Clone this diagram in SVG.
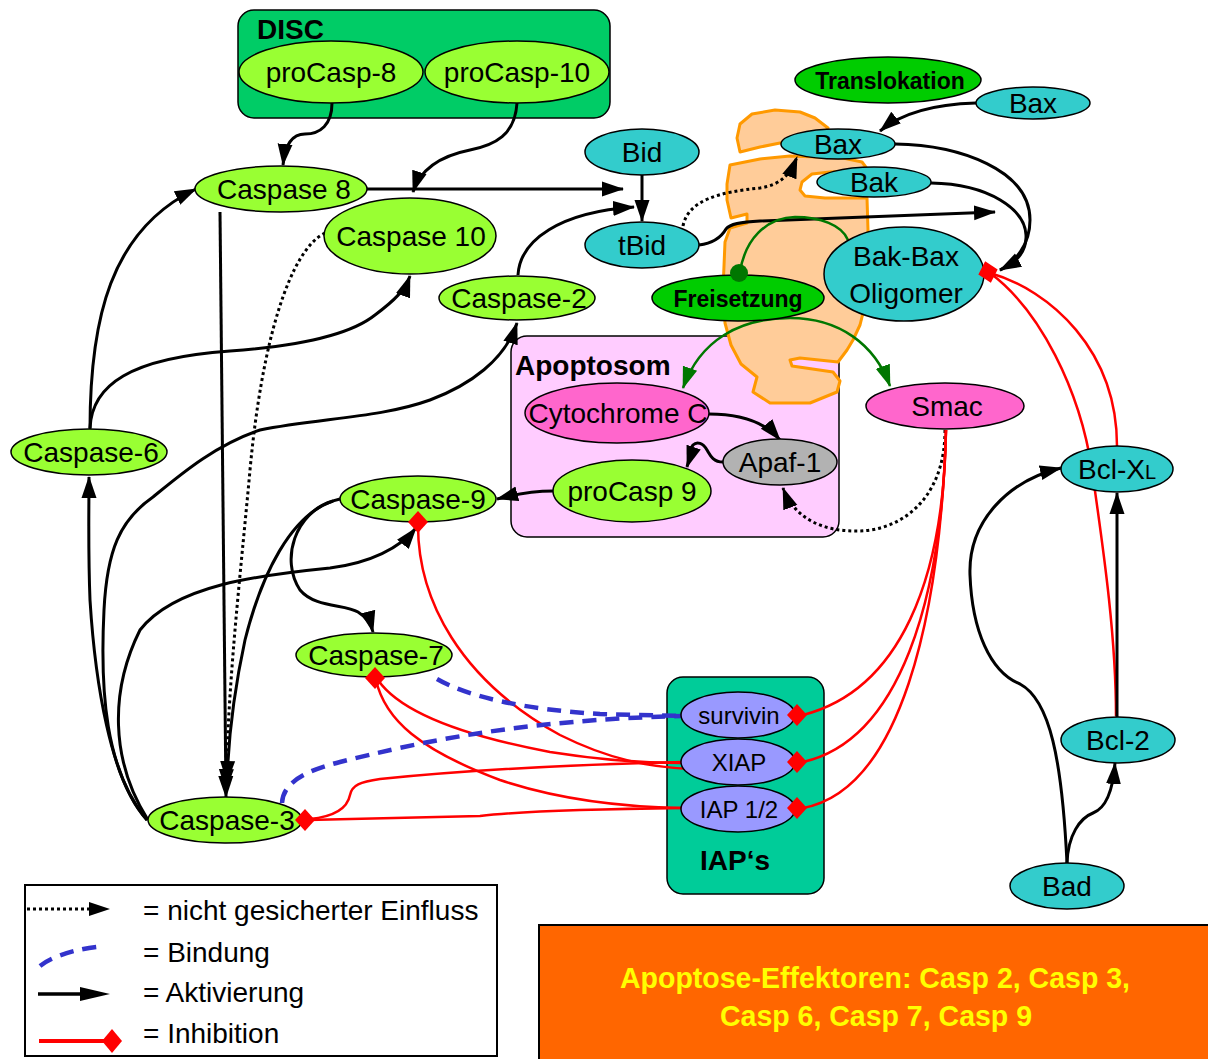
<svg xmlns="http://www.w3.org/2000/svg" xmlns:xlink="http://www.w3.org/1999/xlink" width="1208" height="1059" viewBox="0 0 1208 1059">
<defs>
<style>
text{font-family:"Liberation Sans",Arial,sans-serif;fill:#000;}
.t{font-size:28px;text-anchor:middle;}
.ts{font-size:24px;text-anchor:middle;}
.tb{font-size:23px;font-weight:bold;text-anchor:middle;}
.lbl{font-size:28px;font-weight:bold;}
.nd{stroke:#000;stroke-width:1.5;}
.g{fill:#99FF33;}
.c{fill:#33CCCC;}
.dg{fill:#00CC00;}
.pk{fill:#FF66CC;}
.iap{fill:#9999FF;}
.act{fill:none;stroke:#000;stroke-width:3;marker-end:url(#arr);}
.actn{fill:none;stroke:#000;stroke-width:3;}
.dot{fill:none;stroke:#000;stroke-width:3;stroke-dasharray:3 3;}
.inh{fill:none;stroke:#FF0000;stroke-width:2.5;}
.bind{fill:none;stroke:#3333CC;stroke-width:4.5;stroke-dasharray:14 9;}
.grn{fill:none;stroke:#007700;stroke-width:2.5;}
.leg{font-size:28px;}
</style>
<marker id="arr" markerUnits="userSpaceOnUse" markerWidth="23" markerHeight="17" viewBox="0 0 23 17" refX="21" refY="8.5" orient="auto">
<path d="M0,1 L22,8.5 L0,16 Z" fill="#000"/>
</marker>
<marker id="arrg" markerUnits="userSpaceOnUse" markerWidth="23" markerHeight="17" viewBox="0 0 23 17" refX="21" refY="8.5" orient="auto">
<path d="M0,1 L22,8.5 L0,16 Z" fill="#007700"/>
</marker>
<path id="dia" d="M0,-11 L10,0 L0,11 L-10,0 Z" fill="#FF0000"/>
</defs>
<rect width="1208" height="1059" fill="#fff"/>

<g id="DISC">
<rect x="238" y="10" width="372" height="108" rx="16" fill="#00CC66" stroke="#000" stroke-width="1.5"/>
<text class="lbl" x="257" y="39">DISC</text>
</g>
<g id="Apoptosom">
<rect x="511" y="336" width="328" height="201" rx="16" fill="#FFCCFF" stroke="#000" stroke-width="1.5"/>
<text class="lbl" x="515" y="375">Apoptosom</text>
</g>
<g id="IAPs">
<rect x="667" y="677" width="157" height="217" rx="16" fill="#00CC99" stroke="#000" stroke-width="1.5"/>
<text class="lbl" x="735" y="870" text-anchor="middle">IAP‘s</text>
</g>

<g id="mitochondrion" fill="#FFCC99" stroke="#FF9900" stroke-width="3" stroke-linejoin="round">
<path d="M740,152 L737,138 L740,124 L752,114 L775,110 L800,112 L815,118 L828,128 L822,136 L800,140 L780,143 L760,147 Z"/>
<path d="M730,165 L760,159 L790,156 L843,158 L862,162 L868,170 L830,172 L812,174 L802,182 L800,190 L805,196 L825,198 L867,198 L868,230 L868,265 L865,305 L860,325 L853,340 L847,350 L838,362 L800,358 L790,360 L792,366 L833,372 L840,381 L837,392 L810,403 L770,403 L753,392 L757,377 L741,364 L731,345 L725,323 L723,290 L725,242 L730,228 L747,223 L747,214 L731,218 L727,200 L727,184 Z"/>
</g>

<g id="connectors">
<path class="act" d="M332,103 C332,125 320,134 305,134 C292,134 285,145 283,165"/>
<path class="act" d="M517,103 C515,135 495,145 470,150 C440,156 420,170 413,192"/>
<path class="act" d="M367,189 L623,189" stroke-width="3.5"/>
<path class="act" d="M518,275 C520,240 560,212 634,207"/>
<path class="act" d="M642,175 L642,221"/>
<path class="dot" d="M683,226 C688,200 720,192 760,188 C780,185 790,175 797,157" marker-end="url(#arr)"/>
<path class="act" d="M699,245 C715,243 722,236 726,229 C730,224 740,222 760,221 L995,212"/>
<path class="act" d="M976,103 C940,104 905,110 880,131"/>
<path class="act" d="M895,144 C960,145 1030,170 1030,220 C1030,245 1015,262 1000,270"/>
<path class="actn" d="M931,183 C990,184 1025,210 1026,235 C1027,252 1015,264 1000,270"/>
<path class="grn" d="M740,272 C745,240 765,218 795,217 C820,217 842,225 848,240"/>
<path class="grn" d="M790,318 C740,318 700,340 683,388" marker-end="url(#arrg)"/>
<path class="grn" d="M790,318 C840,318 875,345 890,386" marker-end="url(#arrg)"/>
<path class="act" d="M709,414 C740,414 765,422 780,440"/>
<path class="act" d="M723,462 C713,462 710,455 707,450 C703,443 697,441 693,445 C689,450 690,458 687,467"/>
<path class="act" d="M553,491 C535,491 520,493 497,499"/>
<path class="dot" d="M945,430 C945,500 900,530 860,531 C825,532 795,520 783,488" marker-end="url(#arr)"/>
<path class="inh" d="M946,430 C944,580 900,690 803,715"/>
<path class="inh" d="M946,430 C942,600 900,740 803,762"/>
<path class="inh" d="M946,430 C940,620 900,790 803,808"/>
<path class="inh" d="M990,273 C1050,290 1117,350 1117,446"/>
<path class="inh" d="M990,273 C1040,310 1080,390 1092,470 C1105,560 1116,640 1116,716"/>
<path class="act" d="M1117,717 L1117,493"/>
<path class="act" d="M1067,863 C1068,835 1080,818 1093,813 C1106,808 1113,790 1115,763"/>
<path class="act" d="M1067,863 C1062,760 1050,700 1020,684 C990,672 972,630 970,575 C968,520 1010,480 1061,468"/>
<path class="act" d="M90,429 C90,320 110,230 196,189"/>
<path class="act" d="M90,428 C92,385 130,358 230,351 C300,346 350,335 375,315 C395,300 405,290 410,276"/>
<path class="act" d="M220,212 L226,797"/>
<path class="dot" d="M325,233 C290,250 262,340 250,470 C240,580 228,680 226,790" marker-end="url(#arr)"/>
<path class="act" d="M340,499 C290,510 260,580 245,640 C232,700 228,750 227,782"/>
<path class="act" d="M333,501 C295,512 280,560 300,590 C315,608 345,604 358,612 C366,617 371,624 373,632"/>
<path class="act" d="M148,820 C110,760 110,690 140,630 C175,585 260,575 330,568 C370,563 400,548 416,528"/>
<path class="act" d="M147,820 C110,780 95,680 90,600 C88,550 89,510 89,477"/>
<path class="act" d="M147,820 C105,770 100,690 104,610 C107,550 120,520 153,497 C180,475 215,445 260,430 C320,418 380,418 430,400 C470,385 505,360 517,323"/>
<path class="inh" d="M418,525 C418,600 460,680 560,735 C610,760 650,767 690,769"/>
<path class="inh" d="M378,680 C400,712 460,735 550,752 C600,760 650,763 683,763"/>
<path class="inh" d="M376,680 C385,720 420,750 500,780 C560,800 620,807 683,808"/>
<path class="inh" d="M308,820 L480,816 C520,811 600,809 683,808"/>
<path class="inh" d="M310,819 C330,817 347,810 350,795 C352,785 360,782 380,779 C450,772 550,765 683,762"/>
<path class="bind" d="M437,679 C470,698 530,710 600,714 L682,716"/>
<path class="bind" d="M282,803 C283,785 300,772 340,762 C420,742 520,720 682,716"/>
</g>

<g id="proCasp-8"><ellipse class="nd g" cx="331" cy="72" rx="92" ry="31"/><text class="t" x="331" y="82">proCasp-8</text></g>
<g id="proCasp-10"><ellipse class="nd g" cx="517" cy="72" rx="92" ry="31"/><text class="t" x="517" y="82">proCasp-10</text></g>
<g id="Caspase8"><ellipse class="nd g" cx="281" cy="189" rx="86" ry="23"/><text class="t" x="284" y="199">Caspase 8</text></g>
<g id="Caspase10"><ellipse class="nd g" cx="410" cy="236" rx="86" ry="38"/><text class="t" x="411" y="246">Caspase 10</text></g>
<g id="Caspase-2"><ellipse class="nd g" cx="517" cy="298" rx="78" ry="22"/><text class="t" x="519" y="308">Caspase-2</text></g>
<g id="Caspase-6"><ellipse class="nd g" cx="89" cy="452" rx="78" ry="23"/><text class="t" x="91" y="462" font-size="29">Caspase-6</text></g>
<g id="Caspase-9"><ellipse class="nd g" cx="418" cy="499" rx="78" ry="23"/><text class="t" x="418" y="509">Caspase-9</text></g>
<g id="Caspase-7"><ellipse class="nd g" cx="374" cy="655" rx="78" ry="22"/><text class="t" x="376" y="665">Caspase-7</text></g>
<g id="Caspase-3"><ellipse class="nd g" cx="225" cy="820" rx="77" ry="23"/><text class="t" x="227" y="830">Caspase-3</text></g>

<g id="Bid"><ellipse class="nd c" cx="642" cy="152" rx="57" ry="23"/><text class="t" x="642" y="162">Bid</text></g>
<g id="tBid"><ellipse class="nd c" cx="642" cy="245" rx="57" ry="23"/><text class="t" x="642" y="255">tBid</text></g>
<g id="Translokation"><ellipse class="nd dg" cx="888" cy="80" rx="93" ry="23"/><text class="tb" x="890" y="89">Translokation</text></g>
<g id="Bax-cyto"><ellipse class="nd c" cx="1033" cy="103" rx="57" ry="16"/><text class="t" x="1033" y="113">Bax</text></g>
<g id="Bax-mito"><ellipse class="nd c" cx="838" cy="144" rx="57" ry="15"/><text class="t" x="838" y="154">Bax</text></g>
<g id="Bak"><ellipse class="nd c" cx="874" cy="182" rx="57" ry="15"/><text class="t" x="874" y="192">Bak</text></g>
<g id="Bak-Bax-Oligomer"><ellipse class="nd c" cx="904" cy="274" rx="80" ry="47"/><text class="t" x="906" y="266">Bak-Bax</text><text class="t" x="906" y="303">Oligomer</text></g>
<g id="Freisetzung"><ellipse class="nd dg" cx="738" cy="298" rx="86" ry="23"/><text class="tb" x="738" y="307">Freisetzung</text><circle cx="739" cy="273" r="9" fill="#007700"/></g>

<g id="CytochromeC"><ellipse class="nd pk" cx="617" cy="413" rx="92" ry="30"/><text class="t" x="618" y="423">Cytochrome C</text></g>
<g id="Apaf-1"><ellipse class="nd" cx="780" cy="462" rx="57" ry="23" fill="#B2B2B2"/><text class="t" x="780" y="472" font-size="27">Apaf-1</text></g>
<g id="proCasp9"><ellipse class="nd g" cx="632" cy="491" rx="79" ry="31"/><text class="t" x="632" y="501">proCasp 9</text></g>
<g id="Smac"><ellipse class="nd pk" cx="945" cy="406" rx="79" ry="23"/><text class="t" x="947" y="416">Smac</text></g>

<g id="survivin"><ellipse class="nd iap" cx="738" cy="715" rx="57" ry="23"/><text class="ts" x="739" y="724">survivin</text></g>
<g id="XIAP"><ellipse class="nd iap" cx="738" cy="762" rx="57" ry="23"/><text class="ts" x="739" y="771">XIAP</text></g>
<g id="IAP12"><ellipse class="nd iap" cx="738" cy="809" rx="57" ry="23"/><text class="ts" x="739" y="818">IAP 1/2</text></g>

<g id="Bcl-XL"><ellipse class="nd c" cx="1117" cy="469" rx="56" ry="23"/><text class="t" x="1117" y="479">Bcl-X<tspan font-size="20">L</tspan></text></g>
<g id="Bcl-2"><ellipse class="nd c" cx="1118" cy="740" rx="57" ry="23"/><text class="t" x="1118" y="750">Bcl-2</text></g>
<g id="Bad"><ellipse class="nd c" cx="1067" cy="886" rx="57" ry="23"/><text class="t" x="1067" y="896">Bad</text></g>

<g id="inhibition-ends">
<use xlink:href="#dia" x="797" y="715"/>
<use xlink:href="#dia" x="797" y="762"/>
<use xlink:href="#dia" x="797" y="808"/>
<use xlink:href="#dia" x="988" y="272" transform="rotate(-15 988 272)"/>
<use xlink:href="#dia" x="418" y="522"/>
<use xlink:href="#dia" x="375" y="678"/>
<use xlink:href="#dia" x="305" y="820"/>
</g>

<g id="legend">
<rect x="25" y="885" width="472" height="171" fill="#fff" stroke="#000" stroke-width="2"/>
<path d="M27,909 L92,909" stroke="#000" stroke-width="3" stroke-dasharray="3 3" fill="none"/>
<path d="M89,902 L110,909 L89,916 Z" fill="#000"/>
<path d="M40,966 C50,958 70,950 97,947" stroke="#3333CC" stroke-width="4.5" stroke-dasharray="14 9" fill="none"/>
<path d="M38,994 L82,994" stroke="#000" stroke-width="3.5" fill="none"/>
<path d="M80,987 L110,994 L80,1001 Z" fill="#000"/>
<path d="M39,1041 L104,1041" stroke="#FF0000" stroke-width="4" fill="none"/>
<path d="M112,1029 L122,1041 L112,1053 L102,1041 Z" fill="#FF0000"/>
<text class="leg" x="143" y="920">= nicht gesicherter Einfluss</text>
<text class="leg" x="143" y="962">= Bindung</text>
<text class="leg" x="143" y="1002">= Aktivierung</text>
<text class="leg" x="143" y="1043">= Inhibition</text>
</g>

<g id="effektoren">
<rect x="539" y="925" width="680" height="145" fill="#FF6600" stroke="#000" stroke-width="2"/>
<text x="875" y="988" text-anchor="middle" font-size="30" font-weight="bold" style="fill:#FFFF00" textLength="510" lengthAdjust="spacingAndGlyphs">Apoptose-Effektoren: Casp 2, Casp 3,</text>
<text x="876" y="1026" text-anchor="middle" font-size="30" font-weight="bold" style="fill:#FFFF00" textLength="312" lengthAdjust="spacingAndGlyphs">Casp 6, Casp 7, Casp 9</text>
</g>
</svg>
